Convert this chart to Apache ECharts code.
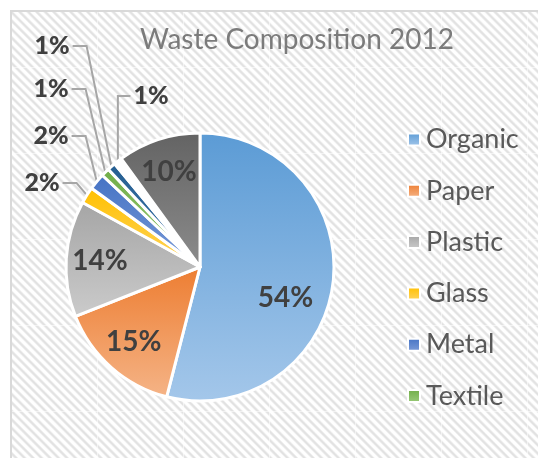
<!DOCTYPE html>
<html>
<head>
<meta charset="utf-8">
<script src="https://cdn.jsdelivr.net/npm/echarts@6/dist/echarts.min.js"></script>
<style>
  html, body { margin: 0; padding: 0; background: #ffffff; }
  #wrap { position: relative; width: 538px; height: 458px; overflow: hidden; }
  #bg {
    position: absolute; left: 10px; top: 10px; width: 540px; height: 460px;
    border: 2px solid #d9d9d9; box-sizing: border-box;
    background-color: #f4f4f4;
    background-image:
      repeating-linear-gradient(90deg, transparent 0px, transparent 85px, rgba(255,255,255,0.55) 85px, rgba(255,255,255,0.55) 86px),
      repeating-linear-gradient(180deg, transparent 0px, transparent 55px, rgba(255,255,255,0.55) 55px, rgba(255,255,255,0.55) 56px, transparent 56px, transparent 86px),
      repeating-linear-gradient(45deg, #ffffff 0px, #ffffff 2px, #e2e2e2 3.5px, #e2e2e2 4.5px, #ffffff 6px);
  }
  #chart { position: absolute; left: 0; top: 0; width: 538px; height: 458px; }
</style>
</head>
<body>
<div id="wrap">
  <div id="bg"></div>
  <div id="chart"></div>
</div>
<script>
// ---- data ----
const title = 'Waste Composition 2012';
const categories = ['Organic', 'Paper', 'Plastic', 'Glass', 'Metal', 'Textile', 'Rubber', 'Wood', 'Other'];
const values = [54, 15, 14, 2, 2, 1, 1, 1, 10];
const legendNames = ['Organic', 'Paper', 'Plastic', 'Glass', 'Metal', 'Textile'];
const topColors = ['#5b9bd5', '#ed7d31', '#a5a5a5', '#ffc000', '#4472c4', '#70ad47', '#255e91', '#ffffff', '#636363'];
const bottomColors = ['#a4c7ea', '#f5b487', '#cbcbcb', '#ffd45e', '#7c9cd8', '#9bcb7b', '#3f77aa', '#ffffff', '#8c8c8c'];
const outsideIdx = [3, 4, 5, 6, 7];

// ---- styles / label placement ----
const CX = 200, CY = 267, R = 134;
const outsidePos = {
  3: { x: 42, y: 183, side: 'left' },
  4: { x: 51, y: 136, side: 'left' },
  5: { x: 51, y: 89, side: 'left' },
  6: { x: 52, y: 46, side: 'left' },
  7: { x: 151, y: 96, side: 'right' }
};
const insideOffset = { 0: [-14, 18] };

function grad(i) {
  return {
    type: 'linear', x: 0, y: 0, x2: 0, y2: 1,
    colorStops: [{ offset: 0, color: topColors[i] }, { offset: 1, color: bottomColors[i] }]
  };
}

const mainData = categories.map((n, i) => ({
  name: n,
  value: values[i],
  itemStyle: { color: grad(i) },
  label: { show: outsideIdx.indexOf(i) >= 0 },
  labelLine: { show: outsideIdx.indexOf(i) >= 0 }
}));

const overlayData = categories.map((n, i) => ({
  name: n,
  value: values[i],
  label: { show: outsideIdx.indexOf(i) < 0, offset: insideOffset[i] || [0, 0] }
}));

const chart = echarts.init(document.getElementById('chart'), null, { renderer: 'canvas' });
chart.setOption({
  animation: false,
  backgroundColor: 'transparent',
  title: {
    text: title,
    left: 292, top: 21, textAlign: 'center',
    textStyle: { fontFamily: 'Lato', fontSize: 28, fontWeight: 'normal', color: '#7b7b7b' }
  },
  legend: {
    data: legendNames,
    orient: 'vertical',
    left: 402, top: 121,
    itemWidth: 12, itemHeight: 12, itemGap: 24.3,
    icon: 'rect',
    textStyle: { fontFamily: 'Lato', fontSize: 27, color: '#595959', padding: [0, 0, 0, 1] }
  },
  series: [
    {
      type: 'pie',
      center: [CX, CY],
      radius: [0, R],
      startAngle: 90,
      clockwise: true,
      avoidLabelOverlap: false,
      itemStyle: { borderColor: '#ffffff', borderWidth: 3 },
      data: mainData,
      label: {
        position: 'outside',
        formatter: p => p.value + '%',
        fontFamily: 'Lato', fontSize: 25, fontWeight: 900, color: '#404040'
      },
      labelLine: {
        length: 60, length2: 20,
        lineStyle: { color: '#a6a6a6', width: 2 }
      },
      labelLayout: function (p) {
        const pos = outsidePos[p.dataIndex];
        if (!pos) return {};
        const w = p.labelRect.width;
        const anchor = p.labelLinePoints ? p.labelLinePoints[0] : null;
        const res = { x: pos.x, y: pos.y, align: 'center', verticalAlign: 'middle' };
        if (anchor) {
          if (pos.side === 'left') {
            const ex = pos.x + w / 2 + 3;
            res.labelLinePoints = [anchor, [ex + 14, pos.y], [ex, pos.y]];
          } else {
            const ex = pos.x - w / 2 - 3;
            res.labelLinePoints = [anchor, [anchor[0], pos.y], [ex, pos.y]];
          }
        }
        return res;
      },
      emphasis: { disabled: true }
    },
    {
      type: 'pie',
      center: [CX, CY],
      radius: [0, R * 1.45],
      startAngle: 90,
      clockwise: true,
      silent: true,
      itemStyle: { color: 'rgba(0,0,0,0)' },
      data: overlayData,
      label: {
        position: 'inside',
        formatter: p => p.value + '%',
        fontFamily: 'Lato', fontSize: 28, fontWeight: 'bold', color: '#404040'
      },
      labelLine: { show: false },
      emphasis: { disabled: true }
    }
  ]
});
</script>
</body>
</html>
